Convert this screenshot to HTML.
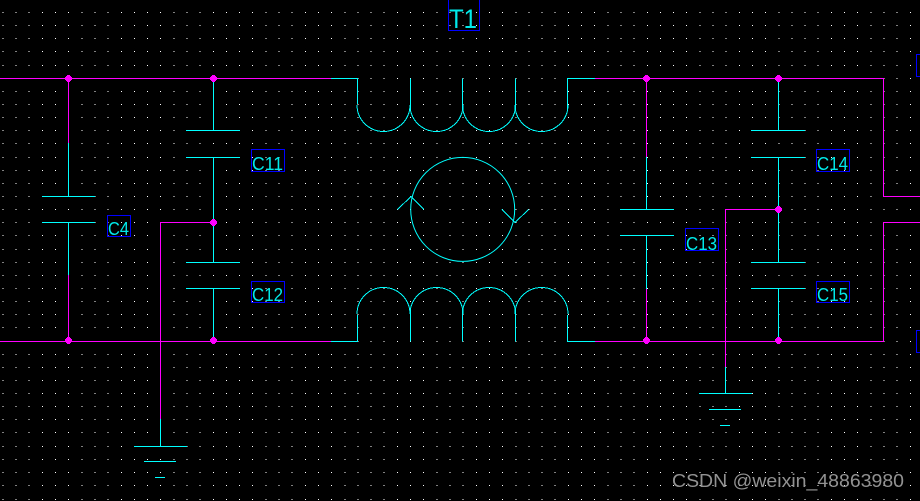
<!DOCTYPE html>
<html lang="en">
<head>
<meta charset="utf-8">
<title>Schematic T1</title>
<style>
html,body{margin:0;padding:0;background:#000;width:920px;height:501px;overflow:hidden}
svg{display:block}
.g path,.g line,.g rect{shape-rendering:crispEdges}
text{font-family:"Liberation Sans",sans-serif;fill:#00eaea}
</style>
</head>
<body>
<svg width="920" height="501" viewBox="0 0 920 501" xmlns="http://www.w3.org/2000/svg">
<rect width="920" height="501" fill="#000"/>
<g class="g">
<path fill="none" stroke="#fff" stroke-width="1" stroke-dasharray="1 12.15" d="M2.4 12.5H920M2.4 25.5H920M2.4 38.5H920M2.4 51.5H920M2.4 65.5H920M2.4 78.5H920M2.4 91.5H920M2.4 104.5H920M2.4 117.5H920M2.4 130.5H920M2.4 143.5H920M2.4 157.5H920M2.4 170.5H920M2.4 183.5H920M2.4 196.5H920M2.4 209.5H920M2.4 222.5H920M2.4 235.5H920M2.4 249.5H920M2.4 262.5H920M2.4 275.5H920M2.4 288.5H920M2.4 301.5H920M2.4 314.5H920M2.4 327.5H920M2.4 341.5H920M2.4 354.5H920M2.4 367.5H920M2.4 380.5H920M2.4 393.5H920M2.4 406.5H920M2.4 419.5H920M2.4 432.5H920M2.4 446.5H920M2.4 459.5H920M2.4 472.5H920M2.4 485.5H920M2.4 499.5H920"/>

<!-- magenta wires -->
<path fill="none" stroke="#ff00ff" stroke-width="1" d="M0 78.5H331M595 78.5H883.5V196.5H920M920 222.5H883.5V341.5H595M331 341.5H0M68.5 78.5V143M68.5 275V341M646.5 78.5V157M646.5 289V341M213.5 222.5H160.5V419M778.5 209.5H725.5V367"/>

<!-- cyan wires and capacitors -->
<path fill="none" stroke="#00ffff" stroke-width="1" d="M331 78.5H357.5V104M567.5 109V78.5H595M331 341.5H357.5V315M567.5 315V341.5H595
M410.5 78.5V110M462.5 78.5V110M515.5 78.5V110M410.5 341.5V310M462.5 341.5V310M515.5 341.5V310
M68.5 143V196.5M42 196.5H95M42 222.5H95M68.5 222.5V275
M213.5 78.5V130.5M186 130.5H240M186 157.5H240M213.5 157.5V262.5M186 262.5H240M186 288.5H240M213.5 288.5V341
M646.5 157V209.5M620 209.5H674M620 235.5H674M646.5 235.5V289
M778.5 78.5V130.5M751 130.5H805M751 157.5H805M778.5 157.5V262.5M751 262.5H805M751 288.5H805M778.5 288.5V341
M160.5 419V446.5M134 446.5H187M144 461.5H176M155 477.5H165
M725.5 367V393.5M699 393.5H752M709 409.5H741M720 425.5H730
M357 105A26.5 26.5 0 0 0 410 105M410 105A26.5 26.5 0 0 0 463 105M462.5 105A26.5 26.5 0 0 0 515.5 105M515 105A26.5 26.5 0 0 0 568 105
M357 314A26.5 26.5 0 0 1 410 314M410 314A26.5 26.5 0 0 1 463 314M462.5 314A26.5 26.5 0 0 1 515.5 314M515 314A26.5 26.5 0 0 1 568 314
M397.5 209.5L411 196.5L424 209.5M502 209.5L515 222.5L528.5 209.5"/>
<circle cx="462.7" cy="209.4" r="52" fill="none" stroke="#00ffff" stroke-width="1"/>

<!-- junctions -->
<g fill="#ff00ff">
<rect x="66" y="76" width="5" height="5"/><rect x="67" y="75" width="3" height="7"/><rect x="65" y="77" width="7" height="3"/>
<rect x="211" y="76" width="5" height="5"/><rect x="212" y="75" width="3" height="7"/><rect x="210" y="77" width="7" height="3"/>
<rect x="211" y="220" width="5" height="5"/><rect x="212" y="219" width="3" height="7"/><rect x="210" y="221" width="7" height="3"/>
<rect x="66" y="338" width="5" height="5"/><rect x="67" y="337" width="3" height="7"/><rect x="65" y="339" width="7" height="3"/>
<rect x="211" y="338" width="5" height="5"/><rect x="212" y="337" width="3" height="7"/><rect x="210" y="339" width="7" height="3"/>
<rect x="644" y="76" width="5" height="5"/><rect x="645" y="75" width="3" height="7"/><rect x="643" y="77" width="7" height="3"/>
<rect x="776" y="76" width="5" height="5"/><rect x="777" y="75" width="3" height="7"/><rect x="775" y="77" width="7" height="3"/>
<rect x="776" y="207" width="5" height="5"/><rect x="777" y="206" width="3" height="7"/><rect x="775" y="208" width="7" height="3"/>
<rect x="644" y="338" width="5" height="5"/><rect x="645" y="337" width="3" height="7"/><rect x="643" y="339" width="7" height="3"/>
<rect x="776" y="338" width="5" height="5"/><rect x="777" y="337" width="3" height="7"/><rect x="775" y="339" width="7" height="3"/>
</g>

<!-- label boxes -->
<g fill="none" stroke="#0000ff" stroke-width="1">
<rect x="107.5" y="215.5" width="23" height="21"/>
<rect x="251.5" y="149.5" width="33" height="22"/>
<rect x="251.5" y="281.5" width="33" height="21"/>
<rect x="685.5" y="228.5" width="33" height="22"/>
<rect x="816.5" y="149.5" width="33" height="22"/>
<rect x="816.5" y="281.5" width="33" height="21"/>
<path d="M448.5 0V30.5H479.5V0M921 54.5H916.5V76.5H921M921 330.5H916.5V352.5H921"/>
</g>
</g>

<g font-size="18">
<text x="108" y="235" textLength="21" lengthAdjust="spacingAndGlyphs">C4</text>
<text x="252" y="170" textLength="31" lengthAdjust="spacingAndGlyphs">C11</text>
<text x="252" y="301" textLength="31" lengthAdjust="spacingAndGlyphs">C12</text>
<text x="686" y="250" textLength="31" lengthAdjust="spacingAndGlyphs">C13</text>
<text x="817" y="170" textLength="31" lengthAdjust="spacingAndGlyphs">C14</text>
<text x="817" y="301" textLength="31" lengthAdjust="spacingAndGlyphs">C15</text>
</g>
<text x="449" y="28" font-size="27" textLength="28" lengthAdjust="spacingAndGlyphs">T1</text>
<text x="672" y="487" font-size="18" textLength="232" lengthAdjust="spacingAndGlyphs" style="fill:#929292">CSDN @weixin_48863980</text>
</svg>
</body>
</html>
